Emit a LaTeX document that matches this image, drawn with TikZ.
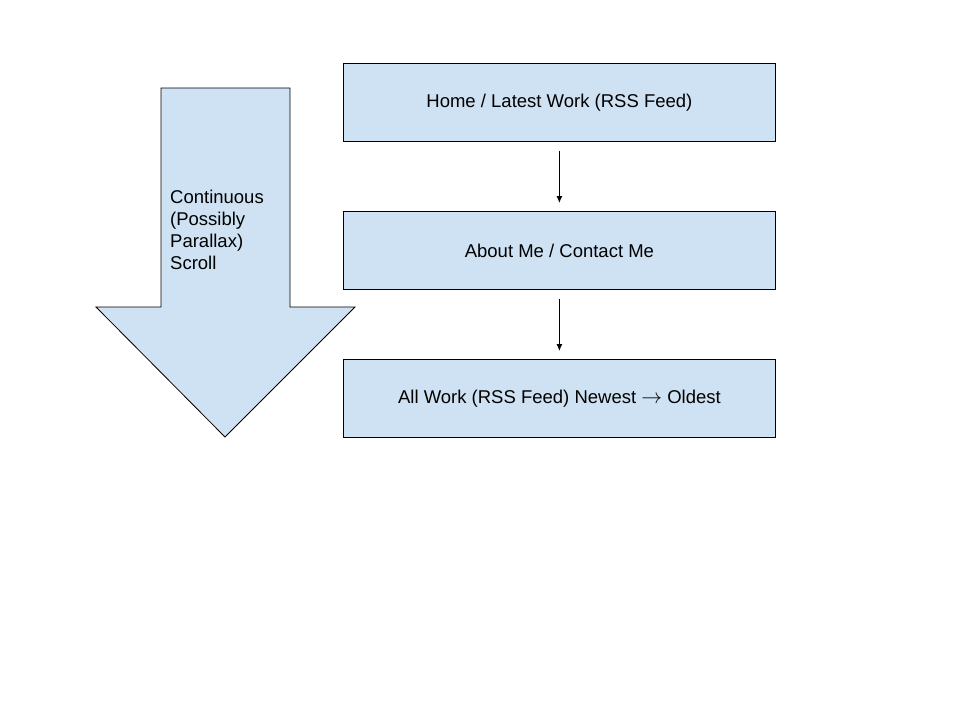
\documentclass[tikz,border=0pt]{standalone}
\usepackage{fontspec}
\setmainfont{Liberation Sans}
\usetikzlibrary{arrows.meta}
\definecolor{boxblue}{HTML}{CFE2F3}
\begin{document}
\begin{tikzpicture}[x=1pt,y=-1pt,
  pagebox/.style={draw=black, fill=boxblue, line width=0.8pt, minimum width=432pt, minimum height=78pt, inner sep=0pt, font=\fontsize{18.5}{22}\selectfont, anchor=north west},
  link/.style={draw=black, line width=1pt, -{Latex[length=7pt,width=6pt]}},
  bigarrow/.style={draw=black, fill=boxblue, line width=0.8pt, line join=miter}]
\useasboundingbox (0,0) rectangle (960,720);
\draw[bigarrow] (161,88) -- (290,88) -- (290,307) -- (355,307) -- (225,437) -- (96,307) -- (161,307) -- cycle;
\node[anchor=north west, align=left, inner sep=0pt, font=\fontsize{18.5}{22}\selectfont] (scroll) at (170,190) {Continuous\\(Possibly\\Parallax)\\Scroll};
\node[pagebox] (home) at (343,63) {Home / Latest Work (RSS Feed)};
\node[pagebox] (about) at (343,211) {About Me / Contact Me};
\node[pagebox] (work) at (343,359) {All Work (RSS Feed) Newest {\fontsize{22}{22}\selectfont$\rightarrow$} Oldest};
\draw[link] ([yshift=-9pt]home.south) -- ([yshift=8pt]about.north);
\draw[link] ([yshift=-9pt]about.south) -- ([yshift=8pt]work.north);
\end{tikzpicture}
\end{document}
